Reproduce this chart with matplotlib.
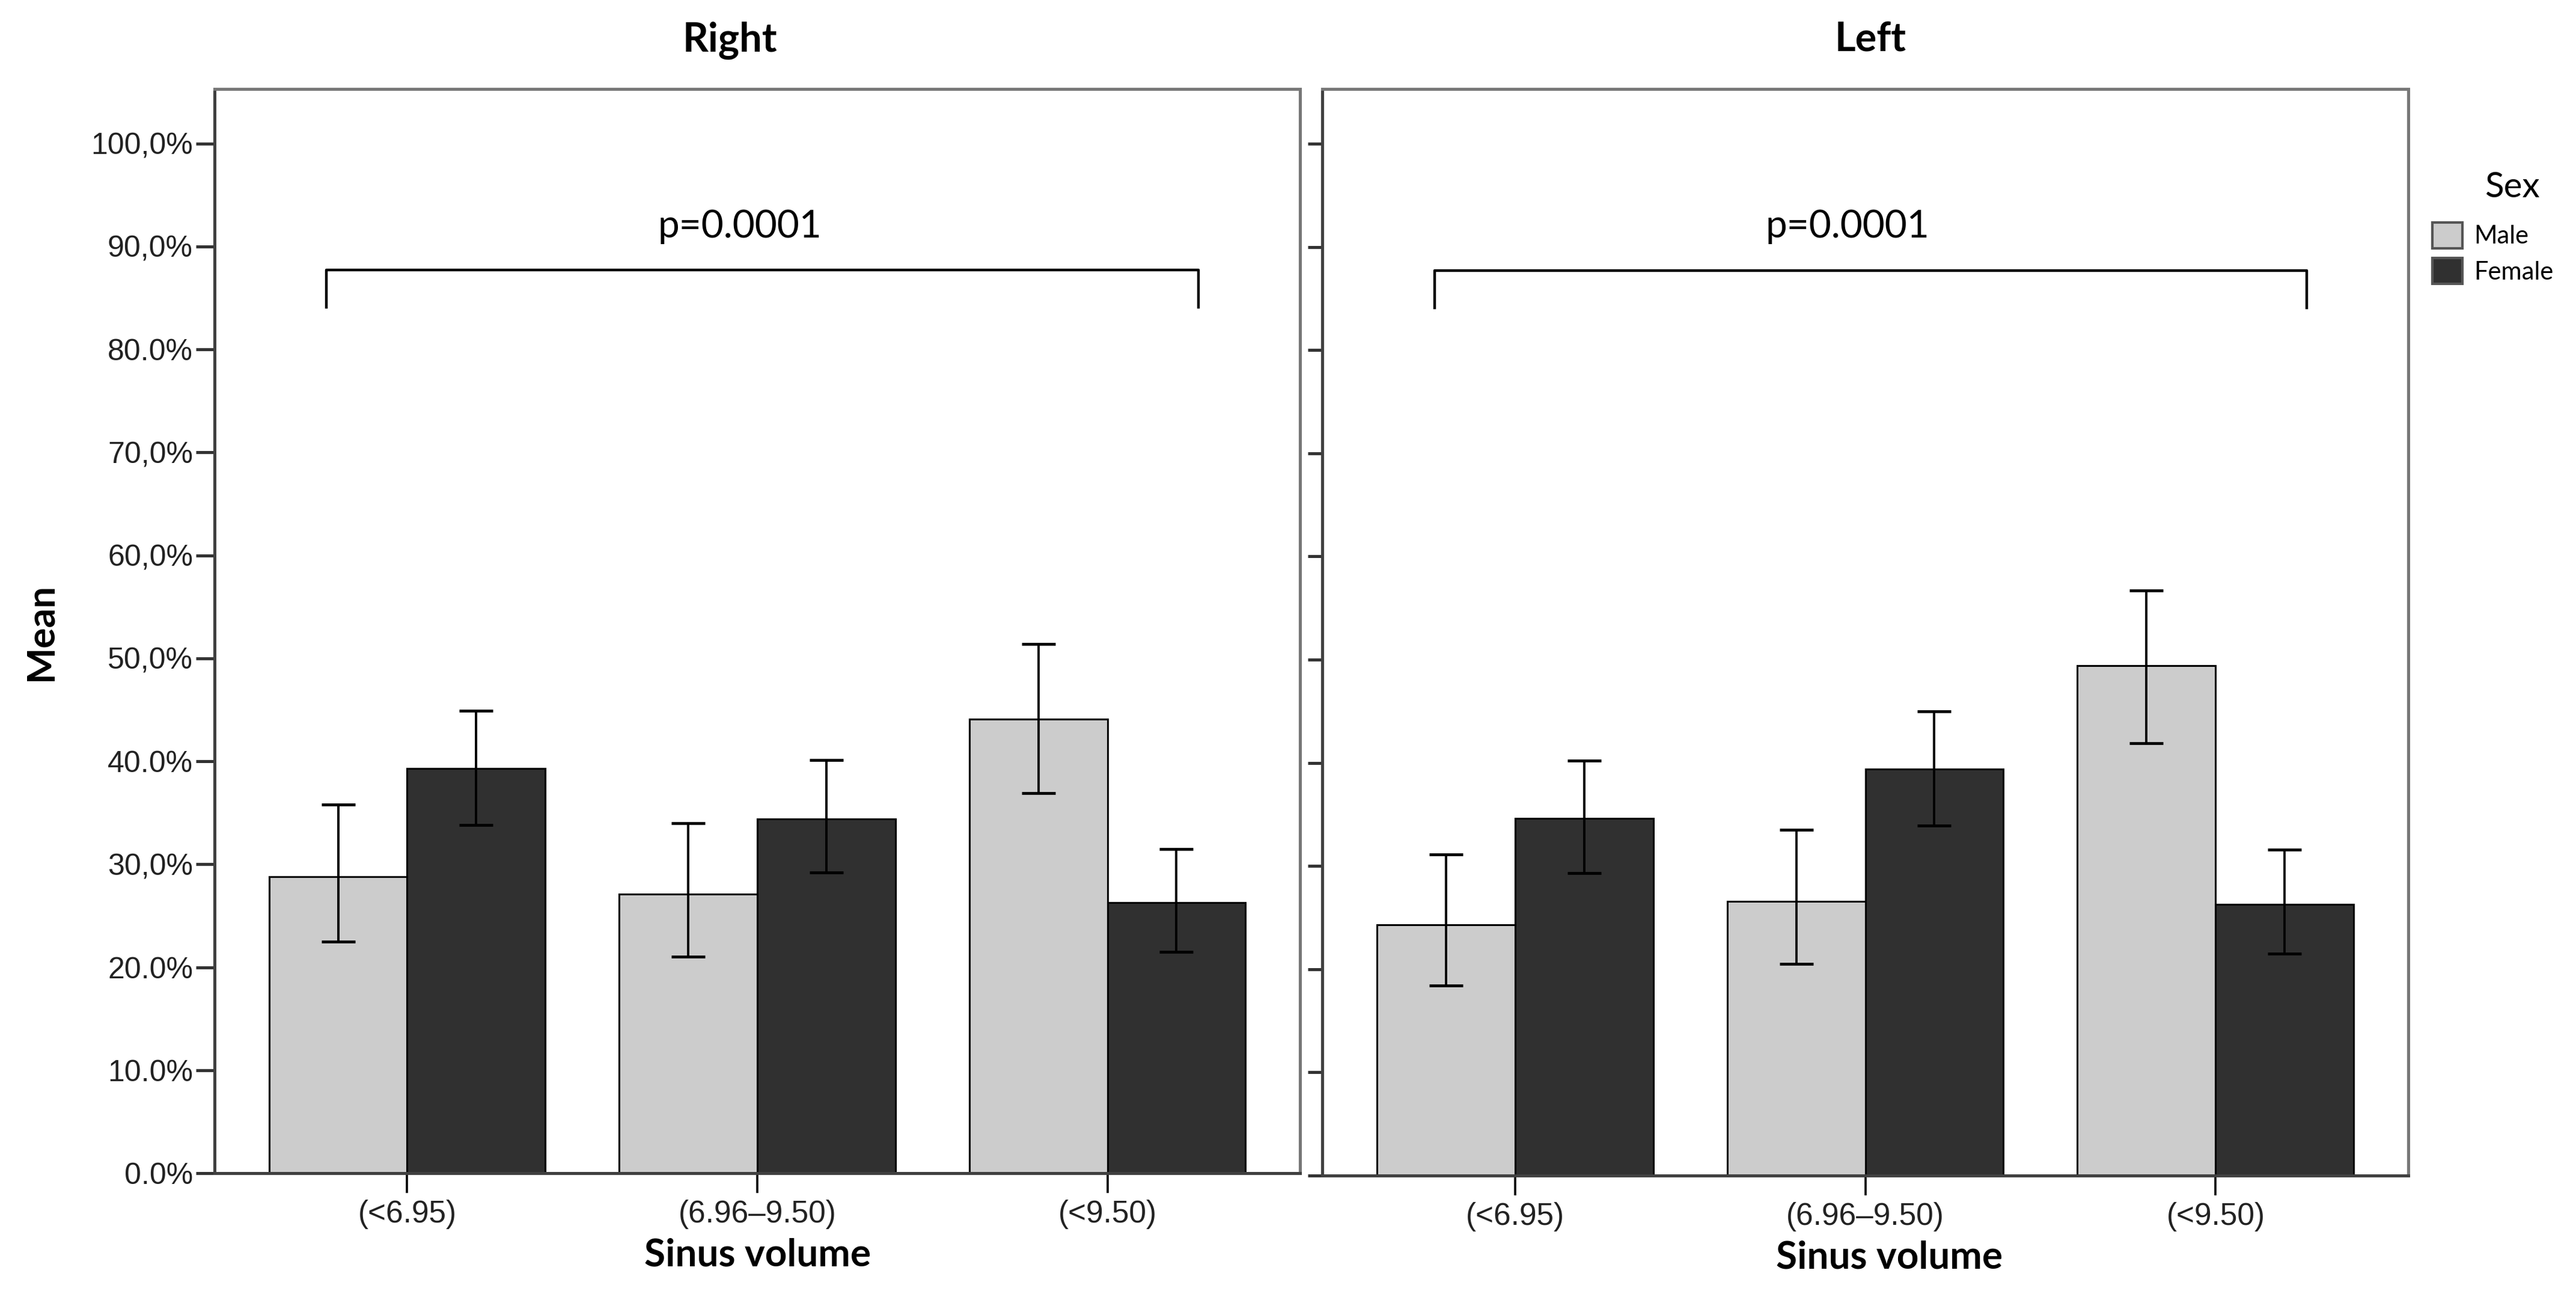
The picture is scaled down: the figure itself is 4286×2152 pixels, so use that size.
import numpy as np
import matplotlib
matplotlib.use("Agg")
import matplotlib.pyplot as plt

# Data (mean % with 95% CI)
categories = ["(<6.95)", "(6.96\u20139.50)", "(<9.50)"]
sexes = ["Male", "Female"]

right_male = [28.8, 27.1, 44.1]
right_male_lo = [22.5, 21.0, 36.9]
right_male_hi = [35.8, 34.0, 51.4]
right_female = [39.3, 34.4, 26.3]
right_female_lo = [33.8, 29.2, 21.5]
right_female_hi = [44.9, 40.1, 31.5]

left_male = [24.3, 26.6, 49.4]
left_male_lo = [18.4, 20.5, 41.9]
left_male_hi = [31.1, 33.5, 56.7]
left_female = [34.6, 39.4, 26.3]
left_female_lo = [29.3, 33.9, 21.5]
left_female_hi = [40.2, 45.0, 31.6]

yticks = [0, 10, 20, 30, 40, 50, 60, 70, 80, 90, 100]
ytick_labels = ["0.0%", "10.0%", "20.0%", "30,0%", "40.0%", "50,0%",
                "60,0%", "70,0%", "80.0%", "90,0%", "100,0%"]
p_text = "p=0.0001"

male_color = "#cccccc"
female_color = "#303030"
bar_w = 0.3945

W, H = 4286, 2152
fig = plt.figure(figsize=(W / 200, H / 200), dpi=200)

ax_r = fig.add_axes([357 / W, 1 - 1951 / H, 1806 / W, 1803 / H])
ax_l = fig.add_axes([2200 / W, 1 - 1955 / H, 1807 / W, 1807 / H])

panels = [
    (ax_r, "Right", 0.475, 0.500, right_male, right_male_lo, right_male_hi,
     right_female, right_female_lo, right_female_hi),
    (ax_l, "Left", 0.505, 0.522, left_male, left_male_lo, left_male_hi,
     left_female, left_female_lo, left_female_hi),
]

x = np.arange(len(categories))
handles = None
for i, (ax, title, tx, lx, m, mlo, mhi, f, flo, fhi) in enumerate(panels):
    m, mlo, mhi = np.array(m), np.array(mlo), np.array(mhi)
    f, flo, fhi = np.array(f), np.array(flo), np.array(fhi)
    bm = ax.bar(x - bar_w / 2, m, bar_w, color=male_color, edgecolor="black",
                linewidth=1.1, zorder=2)
    bf = ax.bar(x + bar_w / 2, f, bar_w, color=female_color, edgecolor="black",
                linewidth=1.1, zorder=2)
    if handles is None:
        handles = [bm, bf]
    ax.errorbar(x - bar_w / 2, m, yerr=[m - mlo, mhi - m], fmt="none",
                ecolor="black", elinewidth=1.4, capsize=10, capthick=1.7, zorder=3)
    ax.errorbar(x + bar_w / 2, f, yerr=[f - flo, fhi - f], fmt="none",
                ecolor="black", elinewidth=1.4, capsize=10, capthick=1.7, zorder=3)

    ax.set_xlim(-0.55, 2.55)
    ax.set_ylim(0, 105.3)
    ax.set_yticks(yticks)
    ax.set_xticks(x)
    ax.set_xticklabels(categories, fontfamily="Liberation Sans", fontsize=18.5,
                       color="#222222")
    if i == 0:
        ax.set_yticklabels(ytick_labels, fontfamily="Liberation Sans",
                           fontsize=18, color="#222222")
        ax.tick_params(axis="y", length=11, width=1.8, pad=2, color="#333333")
    else:
        ax.set_yticklabels([])
        ax.tick_params(axis="y", length=8.6, width=1.8, color="#333333")
    ax.tick_params(axis="x", length=12, width=1.3, pad=4, color="black")

    for side in ["left", "bottom"]:
        ax.spines[side].set_color("#404040")
        ax.spines[side].set_linewidth(1.8)
    for side in ["top", "right"]:
        ax.spines[side].set_color("#777777")
        ax.spines[side].set_linewidth(1.8)

    ax.text(tx, 1.0344, title, transform=ax.transAxes, ha="center",
            va="baseline", fontfamily="Lato", fontweight="bold", fontsize=24)
    ax.text(lx, -0.0754, "Sinus volume", transform=ax.transAxes, ha="center",
            va="center", fontfamily="Lato", fontweight="bold", fontsize=23)

    # significance bracket
    ax.plot([-0.23, -0.23, 2.26, 2.26], [84.1, 87.7, 87.7, 84.1], color="black",
            linewidth=1.6, solid_joinstyle="round", zorder=4)
    ax.text(0.95, 90.9, p_text, ha="center", va="baseline", fontfamily="Lato",
            fontsize=23)

fig.text(68 / W, 1 - 1050 / H, "Mean", rotation=90, ha="center", va="center",
         fontfamily="Lato", fontweight="bold", fontsize=23)

fig.text(4180 / W, 1 - 312 / H, "Sex", ha="center", va="center",
         fontfamily="Lato", fontsize=21)
leg = fig.legend(handles, sexes, loc="upper left",
                 bbox_to_anchor=(4047 / W, 1 - 370 / H), frameon=False,
                 borderpad=0, borderaxespad=0, handlelength=1.2,
                 handleheight=1.2, handletextpad=0.45, labelspacing=0.4,
                 prop={"family": "Lato", "size": 15})
for patch in leg.get_patches():
    patch.set_edgecolor("#555555")
    patch.set_linewidth(1.5)

fig.savefig("out.png", dpi=200)
